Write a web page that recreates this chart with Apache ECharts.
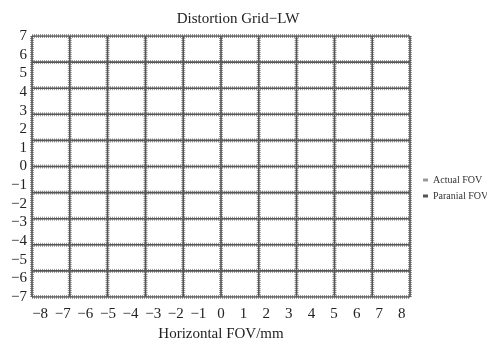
<!DOCTYPE html>
<html><head><meta charset="utf-8">
<script src="https://cdn.jsdelivr.net/npm/echarts@6/dist/echarts.min.js"></script>
<style>html,body{margin:0;padding:0;background:#fff}#c{width:487px;height:339px}</style>
</head><body><div id="c"></div>
<script>
// Grid line positions (mm) for the distortion grid (paraxial and actual coincide)
const xGrid = [-8.36, -6.69, -5.02, -3.34, -1.67, 0, 1.67, 3.34, 5.02, 6.69, 8.36];
const yGrid = [-7, -5.6, -4.2, -2.8, -1.4, 0, 1.4, 2.8, 4.2, 5.6, 7];
const xTicks = [-8,-7,-6,-5,-4,-3,-2,-1,0,1,2,3,4,5,6,7,8];
const yTicks = [-7,-6,-5,-4,-3,-2,-1,0,1,2,3,4,5,6,7];
const seriesNames = ['Actual FOV', 'Paranial FOV'];

const fmt = v => (v < 0 ? '\u2212' + Math.abs(v) : String(v));
const serif = 'Liberation Serif';
const xMin = xGrid[0], xMax = xGrid[xGrid.length-1];
const yMin = yGrid[0], yMax = yGrid[yGrid.length-1];

const series = [];
function addLines(name, style, z) {
  xGrid.forEach(x => series.push({
    name, type: 'line', symbol: 'none', z, silent: true, animation: false,
    lineStyle: style, data: [[x, yMin], [x, yMax]]
  }));
  yGrid.forEach(y => series.push({
    name, type: 'line', symbol: 'none', z, silent: true, animation: false,
    lineStyle: style, data: [[xMin, y], [xMax, y]]
  }));
}
addLines(seriesNames[0], {color: '#9a9a9a', width: 4, type: [1, 1]}, 2);
addLines(seriesNames[1], {color: '#555555', width: 1.6, type: 'solid'}, 3);

const chart = echarts.init(document.getElementById('c'));
chart.setOption({
  animation: false,
  title: {text: 'Distortion Grid\u2212LW', left: 233, textAlign: 'center', top: 7,
    textStyle: {fontFamily: serif, fontSize: 15, fontWeight: 'normal', color: '#222'}},
  legend: {
    orient: 'vertical', left: 418, top: 169, itemGap: 4, itemWidth: 5, itemHeight: 3,
    textStyle: {fontFamily: serif, fontSize: 10, lineHeight: 12, color: '#333'},
    data: [
      {name: seriesNames[0], icon: 'rect', itemStyle: {color: '#9a9a9a'}},
      {name: seriesNames[1], icon: 'rect', itemStyle: {color: '#555555'}}
    ]
  },
  grid: {left: 32, right: 77, top: 36, bottom: 42, containLabel: false, outerBoundsMode: 'none'},
  xAxis: {
    type: 'value', min: xMin, max: xMax,
    name: 'Horizontal FOV/mm', nameLocation: 'middle', nameGap: 30,
    nameTextStyle: {fontFamily: serif, fontSize: 15, color: '#222'},
    axisLine: {show: false}, axisTick: {show: false}, splitLine: {show: false},
    axisLabel: {customValues: xTicks, formatter: fmt, margin: 10,
      fontFamily: serif, fontSize: 15, color: '#222'}
  },
  yAxis: {
    type: 'value', min: yMin, max: yMax,
    axisLine: {show: false}, axisTick: {show: false}, splitLine: {show: false},
    axisLabel: {customValues: yTicks, formatter: fmt, margin: 5,
      fontFamily: serif, fontSize: 15, color: '#222'}
  },
  series
});
</script></body></html>
